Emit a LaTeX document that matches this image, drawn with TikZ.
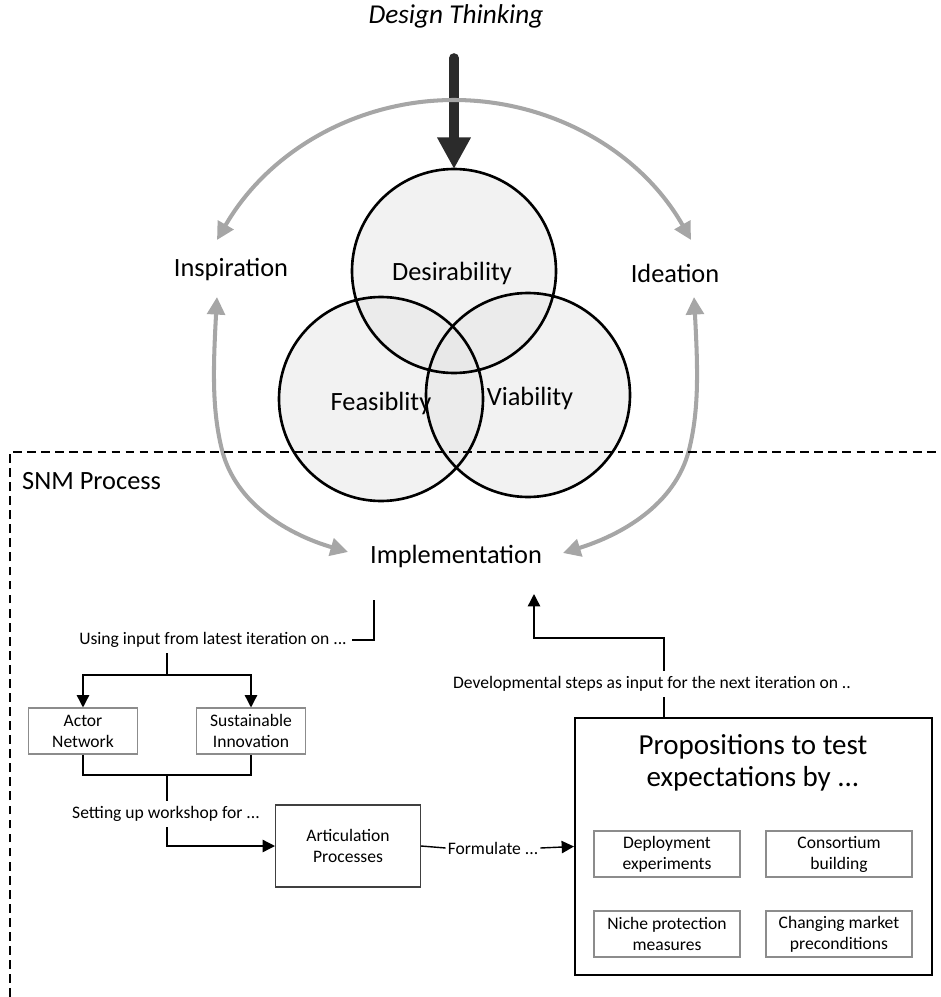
\documentclass[tikz,border=0pt]{standalone}
\usepackage{fontspec}
\setmainfont{Carlito}
\usetikzlibrary{arrows.meta}

\definecolor{arcgray}{HTML}{A6A6A6}
\definecolor{arrowdark}{HTML}{2B2B2B}
\definecolor{boxgray}{HTML}{8C8C8C}

\begin{document}
\begin{tikzpicture}[x=0.02cm, y=-0.02cm,
    bigtext/.style={font=\fontsize{15}{18}\selectfont},
    note/.style={font=\fontsize{10}{12}\selectfont, inner sep=3pt},
    smallbox/.style={draw=boxgray, line width=0.6pt, font=\fontsize{10}{12}\selectfont,
      align=center, minimum width=2.18cm, minimum height=0.92cm, inner sep=1pt},
    innerbox/.style={smallbox, minimum width=2.92cm},
    flow/.style={-{Triangle[length=7pt,width=7pt]}, line width=0.8pt},
    cycle/.style={{Triangle[length=10pt,width=10pt]}-{Triangle[length=10pt,width=10pt]},
      arcgray, line width=2.3pt},
    venn/.style={black!10, fill opacity=0.5}]
  \useasboundingbox (0,0) rectangle (940,997);

  % venn circles
  \coordinate (cdes) at (454,271);
  \coordinate (cfea) at (381,399);
  \coordinate (cvia) at (528,395);
  \foreach \c in {cdes,cfea,cvia}
    \fill[venn] (\c) circle [radius=102];
  \foreach \c in {cdes,cfea,cvia}
    \draw[line width=1.5pt] (\c) circle [radius=102];
  \node[bigtext] (des) at (452,273) {Desirability};
  \node[bigtext] (fea) at (381,403) {Feasiblity};
  \node[bigtext] (via) at (530,398) {Viability};

  % design thinking
  \node[font=\fontsize{15.5}{18}\selectfont\itshape] (dt) at (456,16) {Design Thinking};
  \coordinate (dt-out) at (454,58);
  \coordinate (dt-in) at (454,169);
  \draw[arrowdark, line width=5.5pt, line cap=round,
    -{Triangle[length=18pt,width=18pt]}] (dt-out) -- (dt-in);

  % cycle
  \node[bigtext] (insp) at (231,270) {Inspiration};
  \node[bigtext] (idea) at (675,273) {Ideation};
  \node[bigtext] (impl) at (456,556) {Implementation};
  \coordinate (insp-top) at (217,240);
  \coordinate (insp-bot) at (217,297);
  \coordinate (idea-top) at (691,240);
  \coordinate (idea-bot) at (694,297);
  \coordinate (impl-l) at (348,552);
  \coordinate (impl-r) at (563,553);
  \draw[cycle] (insp-top) .. controls (269,150) and (358,100) .. (454,100)
    .. controls (550,100) and (640,150) .. (idea-top);
  \draw[cycle] (insp-bot) .. controls (213,370) and (212,410) .. (222,450)
    .. controls (236,505) and (290,535) .. (impl-l);
  \draw[cycle] (idea-bot) .. controls (698,370) and (699,410) .. (689,450)
    .. controls (675,505) and (621,535) .. (impl-r);

  % SNM process
  \draw[line width=0.8pt, dash pattern=on 5pt off 3pt] (10,997) -- (10,452) -- (940,452);
  \node[bigtext, anchor=west] (snm) at (16,481) {SNM Process};

  \node[note] (usein) at (213,640) {Using input from latest iteration on ...};
  \node[smallbox] (actor) at (83,731) {Actor\\Network};
  \node[smallbox] (sust) at (251,731) {Sustainable\\Innovation};
  \node[note] (setup) at (166,814) {Setting up workshop for ...};
  \node[draw=black!75, line width=0.6pt, minimum width=2.9cm, minimum height=1.64cm,
    align=center, font=\fontsize{10}{12}\selectfont] (artic) at (348,846) {Articulation\\Processes};
  \node[note, inner sep=1pt] (form) at (493,848) {Formulate ...};
  \node[draw, line width=1.2pt, minimum width=7.14cm, minimum height=5.14cm] (prop) at (753.5,846.5) {};
  \node[font=\fontsize{16.5}{18}\selectfont, align=center] (ptitle) at (753,763)
    {Propositions to test\\expectations by ...};
  \node[innerbox] (deploy) at (667,854) {Deployment\\experiments};
  \node[innerbox] (consort) at (839,854) {Consortium\\building};
  \node[innerbox] (niche) at (667,934) {Niche protection\\measures};
  \node[innerbox] (market) at (839,934) {Changing market\\preconditions};
  \node[note] (devel) at (652,684) {Developmental steps as input for the next iteration on ..};

  \coordinate (impl-out) at (374,600);
  \coordinate (impl-in) at (534,594);
  \coordinate (fork) at (167,675);
  \coordinate (merge) at (167,775);
  \coordinate (back) at (664,638);
  \draw[line width=0.8pt] (impl-out) |- (usein.east);
  \draw[line width=0.8pt] (usein.south -| fork) -- (fork);
  \draw[flow] (fork) -| (actor.north);
  \draw[flow] (fork) -| (sust.north);
  \draw[line width=0.8pt] (actor.south) |- (merge) -| (sust.south);
  \draw[line width=0.8pt] (merge) -- (merge |- setup.north);
  \draw[flow] (setup.south -| merge) |- (artic.west);
  \draw[line width=0.8pt] (artic.east) -- (form.west);
  \draw[flow] (form.east) -- (prop.west);
  \draw[line width=0.8pt] (prop.north -| back) -- (devel.south -| back);
  \draw[flow] (devel.north -| back) -- (back) -| (impl-in);

\end{tikzpicture}
\end{document}
